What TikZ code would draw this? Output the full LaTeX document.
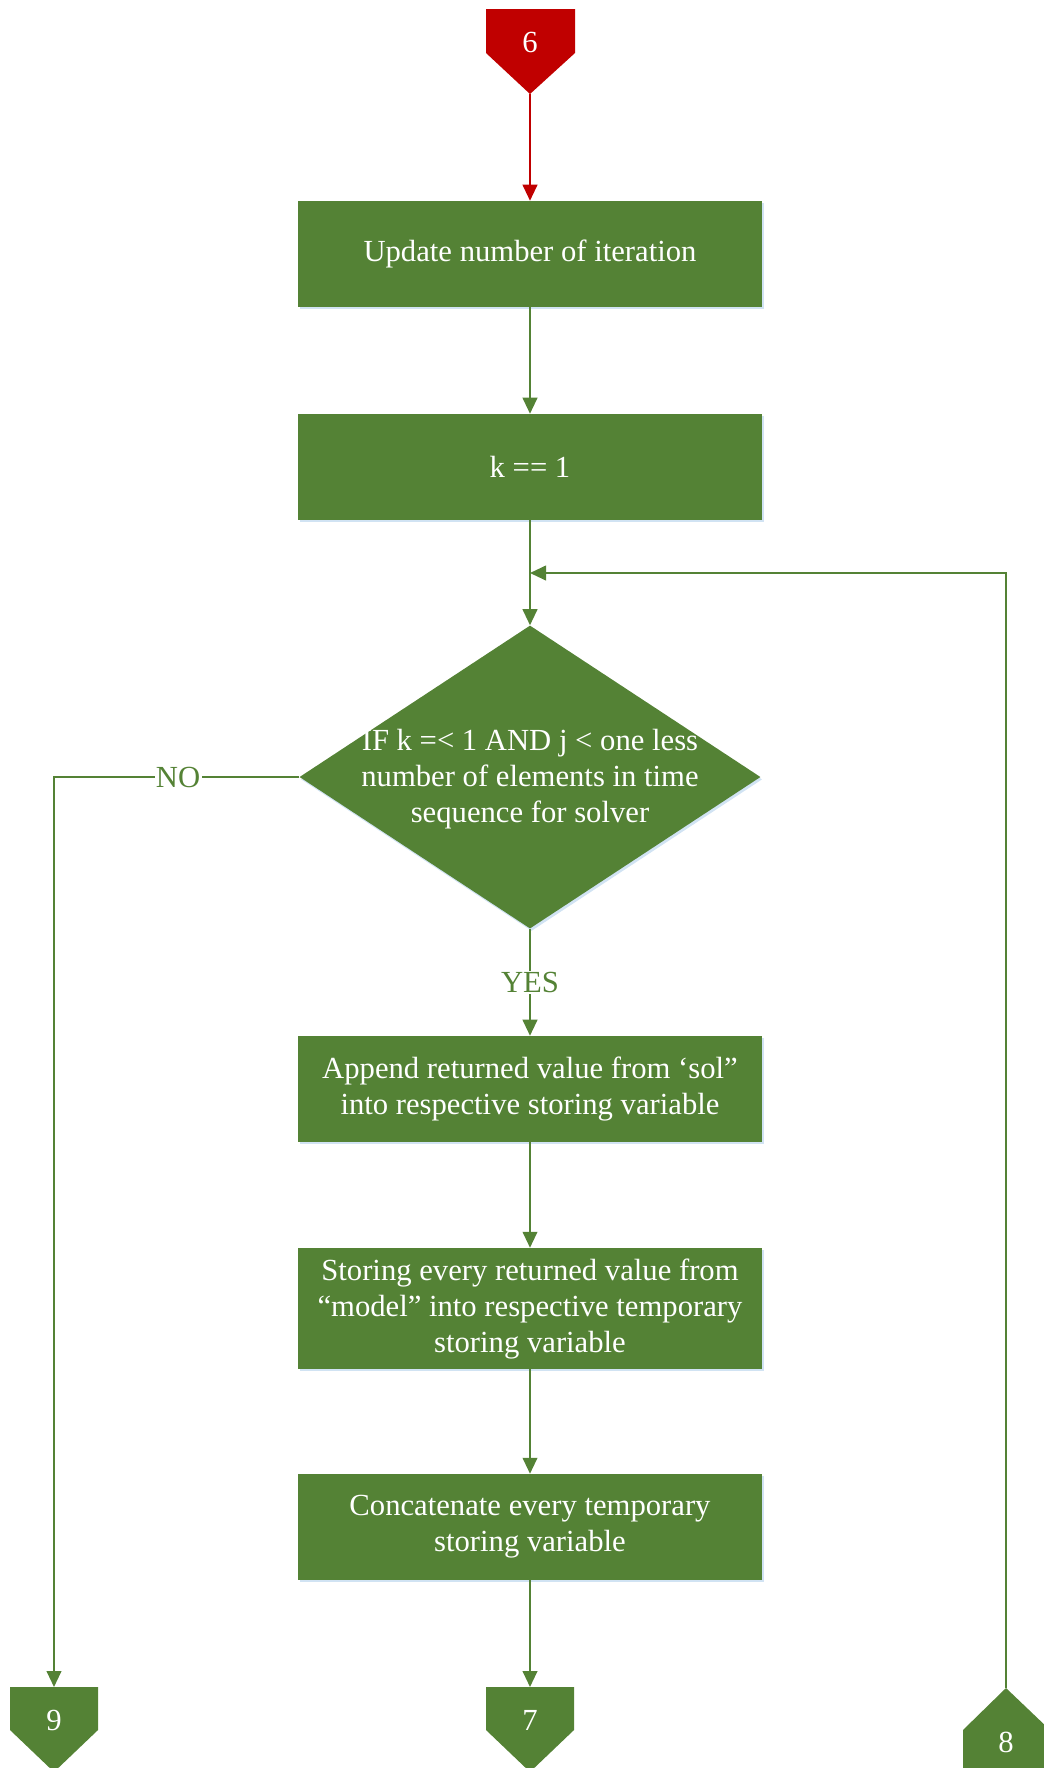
\documentclass[tikz,border=0pt]{standalone}
\usepackage{fontspec}
\setmainfont{Liberation Serif}
\usetikzlibrary{arrows.meta,shapes.geometric,shadows}
\definecolor{verde}{HTML}{548235}
\definecolor{rosso}{HTML}{C00000}
\definecolor{ombra}{HTML}{BDD7EE}

\begin{document}
\begin{tikzpicture}[x=0.75pt,y=-0.75pt,line join=miter,
    testo/.style={font=\fontsize{23}{27}\selectfont},
    blocco/.style={testo,rectangle,fill=verde,text=white,align=center,inner sep=0pt,
      minimum width=348pt,minimum height=79.5pt,
      drop shadow={shadow xshift=1.2pt,shadow yshift=-1.8pt,fill=ombra,opacity=0.7}},
    rombo/.style={diamond,fill=verde,inner sep=0pt,
      minimum width=345.75pt,minimum height=227.25pt,
      drop shadow={shadow xshift=1.2pt,shadow yshift=-1.8pt,fill=ombra,opacity=0.7}},
    num/.style={testo,text=white,inner sep=0pt},
    etich/.style={testo,text=verde,fill=white,inner sep=1pt},
    freccia/.style={draw=verde,line width=1.5pt,-{Triangle[length=12pt,width=11pt]}},
    linea/.style={draw=verde,line width=1.5pt}]

  \useasboundingbox (0,0) rectangle (1044,1768);
  \clip (0,0) rectangle (1044,1768);

  % ---------------- connettori di pagina ----------------
  \fill[rosso] (486,9) -- (575,9) -- (575,53) -- (530,94) -- (486,53) -- cycle;
  \node[num] (c6) at (530,42) {6};
  \coordinate (c6tip) at (530,94);

  \fill[verde] (10,1687) -- (98,1687) -- (98,1730) -- (54,1772) -- (10,1730) -- cycle;
  \node[num] (c9) at (54,1720) {9};
  \coordinate (c9top) at (54,1687);

  \fill[verde] (486,1687) -- (574,1687) -- (574,1730) -- (530,1772) -- (486,1730) -- cycle;
  \node[num] (c7) at (530,1720) {7};
  \coordinate (c7top) at (530,1687);

  \fill[verde] (1006,1688) -- (1050,1730) -- (1050,1800) -- (963,1800) -- (963,1730) -- cycle;
  \node[num] (c8) at (1006,1742) {8};
  \coordinate (c8tip) at (1006,1688);

  % ---------------- blocchi ----------------
  \node[blocco] (upd)  at (530,254)  {Update number of iteration};
  \node[blocco] (kset) at (530,467)  {k == 1};
  \node[rombo]  (cond) at (530,777)  {};
  \node[testo,text=white,align=center,inner sep=0pt] (condtxt) at (530,779)
      {IF k =< 1 AND j < one less\\number of elements in time\\sequence for solver};
  \node[blocco] (app)  at (530,1089) {Append returned value from ‘sol”\\into respective storing variable};
  \node[blocco,minimum height=90.75pt] (store) at (530,1308.5)
      {Storing every returned value from\\“model” into respective temporary\\storing variable};
  \node[blocco] (conc) at (530,1527) {Concatenate every temporary\\storing variable};

  % ---------------- collegamenti ----------------
  \draw[freccia,draw=rosso,rosso] (c6tip) -- (upd.north);
  \draw[freccia] (upd) -- (kset);
  \draw[freccia] (kset) -- (cond.north);
  \coordinate (giro) at (1006,573);
  \draw[freccia] (c8tip) -- (giro) -- (giro -| cond.north);
  \draw[freccia] (cond.west) -| node[etich,pos=0.247] {NO} (c9top);
  \draw[freccia] (cond.south) -- node[etich] {YES} (app);
  \draw[freccia] (app) -- (store);
  \draw[freccia] (store) -- (conc);
  \draw[freccia] (conc) -- (c7top);

\end{tikzpicture}
\end{document}
